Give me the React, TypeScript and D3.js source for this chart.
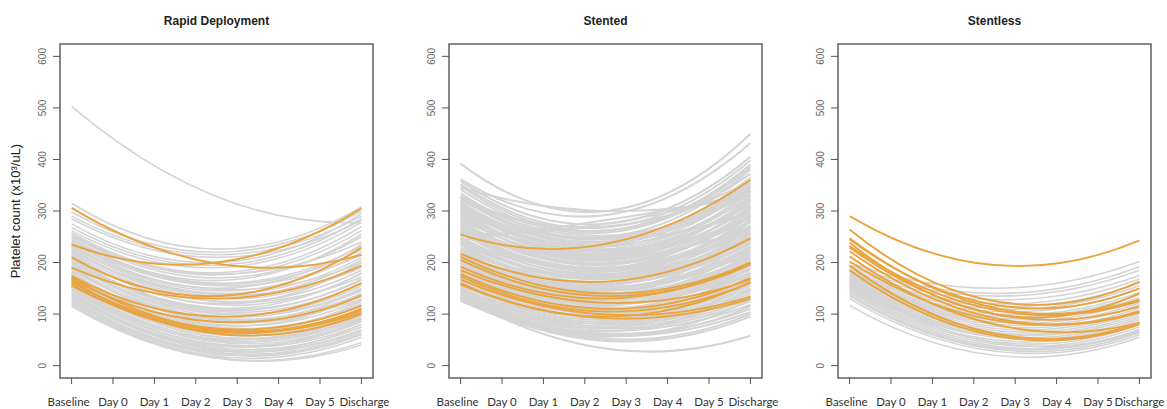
import React from "react";
import * as d3 from "d3";

// Each trajectory: [Baseline value, value midway (between Day 2 and Day 3), Discharge value]
const xLabels = ["Baseline", "Day 0", "Day 1", "Day 2", "Day 3", "Day 4", "Day 5", "Discharge"];
const yTicks = [0, 100, 200, 300, 400, 500, 600];
const panelTitles = ["Rapid Deployment", "Stented", "Stentless"];
const yAxisTitle = "Platelet count (x10³/uL)";

const rapidGray: number[][] = [
  [503, 328, 278], [315, 226, 308], [298, 220, 300], [290, 215, 290], [285, 210, 282],
  [275, 200, 295], [268, 195, 285], [262, 190, 278], [258, 180, 270], [255, 176, 262],
  [252, 170, 250], [250, 178, 240], [248, 165, 255], [245, 160, 232], [242, 158, 225],
  [240, 150, 235], [238, 155, 215], [235, 145, 220], [232, 140, 210], [230, 148, 200],
  [228, 135, 205], [225, 130, 195], [222, 138, 190], [220, 125, 185], [218, 120, 200],
  [215, 118, 178], [212, 124, 172], [210, 112, 180], [208, 108, 168], [205, 105, 160],
  [202, 110, 165], [200, 100, 155], [198, 96, 150], [195, 102, 145], [192, 92, 140],
  [190, 88, 148], [188, 85, 135], [185, 90, 130], [182, 80, 128], [180, 78, 138],
  [178, 75, 120], [175, 72, 118], [172, 68, 125], [170, 65, 112], [168, 62, 105],
  [165, 60, 110], [162, 56, 100], [160, 55, 95], [158, 52, 105], [155, 50, 92],
  [152, 46, 88], [150, 48, 98], [148, 42, 85], [145, 40, 80], [142, 38, 90],
  [140, 35, 75], [138, 32, 70], [135, 30, 68], [132, 28, 80], [130, 26, 65],
  [128, 24, 62], [125, 22, 60], [122, 18, 55], [118, 15, 45], [115, 14, 40],
];
const rapidOrange: number[][] = [
  [306, 198, 215], [235, 200, 305], [210, 135, 229], [190, 130, 194], [174, 95, 160],
  [168, 85, 136], [161, 72, 116], [157, 65, 107], [165, 62, 100], [172, 70, 110], [155, 68, 103],
];

const stentedGray: number[][] = [
  [392, 300, 450], [362, 292, 432], [358, 275, 405], [352, 268, 398], [348, 262, 390],
  [345, 300, 330], [342, 258, 385], [335, 250, 380], [330, 262, 372], [328, 245, 365],
  [325, 240, 360], [322, 248, 352], [320, 270, 360], [318, 236, 348], [315, 230, 345],
  [312, 240, 338], [308, 226, 335], [305, 222, 330], [300, 232, 325], [298, 218, 322],
  [295, 214, 318], [290, 222, 312], [288, 208, 308], [285, 212, 305], [280, 204, 300],
  [276, 200, 296], [272, 195, 292], [268, 198, 288], [265, 190, 282], [262, 186, 278],
  [258, 182, 272], [255, 275, 340], [255, 185, 268], [250, 178, 265], [246, 172, 260],
  [244, 282, 330], [242, 168, 255], [238, 170, 250], [235, 162, 246], [230, 158, 240],
  [226, 160, 236], [222, 152, 232], [218, 148, 228], [214, 145, 222], [210, 150, 218],
  [206, 140, 214], [202, 135, 210], [198, 132, 205], [195, 138, 200], [190, 126, 196],
  [186, 122, 190], [182, 118, 186], [178, 120, 180], [175, 112, 176], [170, 108, 170],
  [166, 104, 165], [162, 100, 160], [158, 96, 155], [155, 92, 150], [150, 88, 145],
  [146, 84, 140], [142, 80, 135], [138, 76, 130], [134, 72, 125], [130, 68, 118],
  [128, 62, 110], [125, 58, 104], [138, 52, 100], [132, 48, 95], [135, 33, 58],
  [326, 252, 340], [310, 234, 355], [302, 215, 340], [292, 206, 325], [282, 196, 318],
  [270, 188, 305], [260, 176, 290], [248, 168, 280], [236, 155, 270], [224, 145, 258],
  [212, 138, 245], [200, 128, 232], [188, 116, 220], [176, 106, 205], [164, 96, 190],
  [152, 82, 175], [144, 74, 160], [136, 66, 148], [128, 56, 128], [140, 60, 115],
  [300, 245, 300], [280, 225, 285], [260, 210, 270], [240, 190, 262], [220, 175, 250],
  [205, 160, 238], [190, 148, 225], [172, 130, 210], [158, 115, 195], [148, 100, 180],
];
const stentedOrange: number[][] = [
  [254, 236, 360], [217, 163, 247], [211, 140, 200], [205, 135, 196], [192, 130, 200],
  [185, 122, 167], [178, 110, 170], [173, 105, 161], [167, 99, 134], [160, 95, 162], [157, 92, 130],
];

const stentlessGray: number[][] = [
  [200, 150, 202], [195, 140, 192], [192, 135, 185], [188, 128, 175], [185, 120, 168],
  [182, 115, 160], [180, 110, 155], [178, 105, 150], [176, 100, 142], [174, 96, 138],
  [172, 92, 132], [170, 88, 128], [168, 84, 122], [166, 80, 118], [164, 76, 112],
  [162, 72, 108], [160, 68, 104], [158, 64, 100], [156, 62, 96], [154, 58, 92],
  [152, 55, 88], [150, 50, 84], [148, 46, 80], [145, 42, 75], [142, 38, 70],
  [138, 35, 68], [135, 32, 64], [130, 28, 60], [117, 20, 55], [160, 45, 65],
];
const stentlessOrange: number[][] = [
  [290, 195, 243], [264, 125, 163], [247, 112, 128], [239, 100, 140], [229, 100, 115],
  [222, 92, 103], [212, 80, 83], [202, 88, 105], [194, 62, 83], [185, 58, 80],
  [245, 118, 150], [232, 108, 125],
];

const panelGray = [rapidGray, stentedGray, stentlessGray];
const panelOrange = [rapidOrange, stentedOrange, stentlessOrange];

const W = 1167;
const H = 409;
const boxLefts = [60, 449, 838];
const boxWidth = 313;
const boxTop = 44;
const boxBottom = 378;
const GRAY = "#d4d4d4";
const ORANGE = "#e9a43f";
const FONT = "'Liberation Sans', Arial, sans-serif";
const LABEL_FONT = "Lato, 'Liberation Sans', sans-serif";
const grayWidths = [1.6, 2.0, 1.6];

function Panel({ idx }: { idx: number }) {
  const left = boxLefts[idx];
  const right = left + boxWidth;
  const n = xLabels.length - 1;
  const pad = n * 0.04;
  const x = d3.scaleLinear().domain([-pad, n + pad]).range([left, right]);
  const y = d3.scaleLinear().domain([-24, 624]).range([boxBottom, boxTop]);
  const mid = n / 2;

  const curve = (v: number[]) => {
    const [b, m, d] = v;
    const p = d3.path();
    p.moveTo(x(0), y(b));
    p.quadraticCurveTo(x(mid), y(2 * m - (b + d) / 2), x(n), y(d));
    return p.toString();
  };

  const cx = (left + right) / 2;
  return (
    <g>
      <text x={cx} y={25} textAnchor="middle" fontFamily={FONT} fontWeight="bold" fontSize={12} fill="#222">
        {panelTitles[idx]}
      </text>
      <g>
        {panelGray[idx].map((v, i) => (
          <path key={"g" + i} d={curve(v)} fill="none" stroke={GRAY} strokeWidth={grayWidths[idx]} />
        ))}
        {panelOrange[idx].map((v, i) => (
          <path key={"o" + i} d={curve(v)} fill="none" stroke={ORANGE} strokeWidth={1.9} />
        ))}
      </g>
      <rect x={left} y={boxTop} width={boxWidth} height={boxBottom - boxTop} fill="none" stroke="#555" strokeWidth={1.4} />
      {yTicks.map((t) => (
        <g key={"y" + t}>
          <line x1={left - 7} x2={left} y1={y(t)} y2={y(t)} stroke="#555" strokeWidth={1} />
          <text
            transform={`translate(${left - 14},${y(t)}) rotate(-90)`}
            textAnchor="middle"
            fontFamily={FONT}
            fontSize={10}
            fill="#666"
          >
            {t}
          </text>
        </g>
      ))}
      {xLabels.map((lab, i) => (
        <g key={"x" + i}>
          <line x1={x(i)} x2={x(i)} y1={boxBottom} y2={boxBottom + 6} stroke="#555" strokeWidth={1} />
          <text
            x={x(i) + (i === 0 ? -3 : i === n ? (idx === 2 ? 0 : 3) : 0)}
            y={406}
            textAnchor="middle"
            fontFamily={LABEL_FONT}
            fontSize={11.5}
            fill="#333"
          >
            {lab}
          </text>
        </g>
      ))}
    </g>
  );
}

export default function App() {
  return (
    <svg width={W} height={H} style={{ position: "absolute", left: 0, top: 0, background: "#fff" }}>
      <rect x={0} y={0} width={W} height={H} fill="#fff" />
      <text
        transform={`translate(20,${(boxTop + boxBottom) / 2}) rotate(-90)`}
        textAnchor="middle"
        fontFamily={FONT}
        fontSize={13}
        fill="#222"
      >
        {yAxisTitle}
      </text>
      {[0, 1, 2].map((i) => (
        <Panel key={i} idx={i} />
      ))}
    </svg>
  );
}
